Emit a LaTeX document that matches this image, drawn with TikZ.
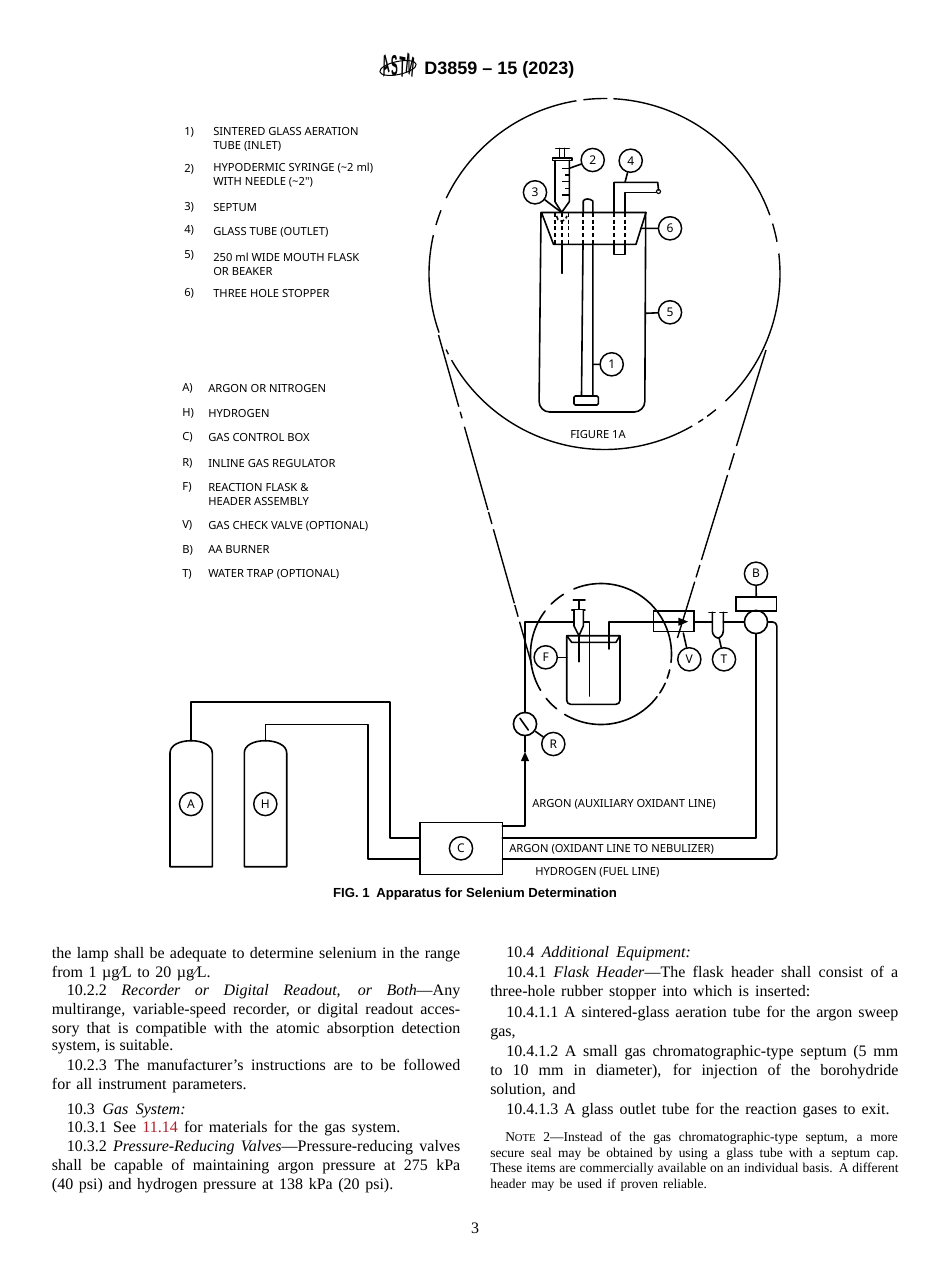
\documentclass[tikz,border=0pt]{standalone}
\usepackage{fontspec}
\setmainfont{Liberation Serif}
\newfontfamily\hel{Liberation Sans}
\newfontfamily\lab{Noto Sans}
\usetikzlibrary{arrows.meta}
\definecolor{linkred}{RGB}{175,30,40}
\newcommand{\bigarc}[2]{\draw[thinline] plot[domain=#1:#2,samples=70] ({604.5+175.5*cos(\x)},{274+175.5*sin(\x)});}
\newcommand{\smallarc}[2]{\draw[pipe] plot[domain=#1:#2,samples=50] ({601+70.5*cos(\x)},{654+70.5*sin(\x)});}
\newcommand{\bodyfont}{\fontsize{12pt}{13pt}\selectfont}
\newcommand{\notefont}{\fontsize{10.1pt}{12pt}\selectfont}
\newcommand{\full}[1]{\makebox[306.2pt][s]{#1}}
\newcommand{\ind}[1]{\makebox[295pt][s]{#1}}
\newcommand{\wide}[2]{\makebox[#1pt][s]{#2}}
\tikzset{
  pipe/.style={line width=1.2pt,line cap=round,line join=round},
  thinline/.style={line width=1.05pt,line cap=butt},
  fine/.style={line width=.85pt,line join=round},
  ball/.style={circle,draw,line width=1.1pt,fill=white,minimum size=17.4pt,inner sep=0pt,font=\lab\fontsize{9pt}{10pt}\selectfont},
  blank/.style={circle,draw,line width=1.2pt,fill=white,minimum size=17.4pt,inner sep=0pt},
  legend/.style={anchor=base west,inner sep=0pt,font=\lab\fontsize{8.38pt}{10pt}\selectfont},
  bodyline/.style={anchor=base west,inner sep=0pt,font=\bodyfont},
  noteline/.style={anchor=base west,inner sep=0pt,font=\notefont},
  tube/.style={line width=1.2pt,dash pattern=on 3pt off 2pt},
  logoletter/.style={inner sep=0pt,font=\hel\bfseries\fontsize{15pt}{15pt}\selectfont,xscale=.5,yscale=1.45},
}
\begin{document}
\begin{tikzpicture}[x=.75pt,y=-.75pt]
\useasboundingbox (0,0) rectangle (950,1272);
\fill[white] (0,0) rectangle (950,1272);

% header
\node (logoA) [logoletter,rotate=16] at (386.5,65) {A};
\node (logoS) [logoletter,rotate=5] at (394.5,66) {S};
\node (logoT) [logoletter,rotate=-4] at (402.5,67) {T};
\node (logoM) [logoletter,rotate=-16] at (410.5,65) {M};
\draw[line width=.75pt] (398,68) [rotate around={12:(398,68)}] ellipse (18.5 and 6.5);
\node (title) [anchor=base west,inner sep=0,font=\hel\bfseries\fontsize{13.5pt}{14pt}\selectfont] at (424,74) {D3859 – 15 (2023)};

% legend 1
\node (l1n) [legend] at (184,135) {1)};
\node (l1a) [legend] at (213,135) {SINTERED GLASS AERATION};
\node (l1b) [legend] at (213,149) {TUBE (INLET)};
\node (l2n) [legend] at (184,172) {2)};
\node (l2a) [legend] at (213,171) {HYPODERMIC SYRINGE (\textasciitilde2 ml)};
\node (l2b) [legend] at (213,185) {WITH NEEDLE (\textasciitilde2")};
\node (l3n) [legend] at (184,210) {3)};
\node (l3a) [legend] at (213,211) {SEPTUM};
\node (l4n) [legend] at (184,233) {4)};
\node (l4a) [legend] at (213,235) {GLASS TUBE (OUTLET)};
\node (l5n) [legend] at (184,258) {5)};
\node (l5a) [legend] at (213,261) {250 ml WIDE MOUTH FLASK};
\node (l5b) [legend] at (213,275) {OR BEAKER};
\node (l6n) [legend] at (184,296) {6)};
\node (l6a) [legend] at (213,297) {THREE HOLE STOPPER};

% legend 2
\node (laN) [legend] at (182,391) {A)};
\node (laT) [legend] at (208,392) {ARGON OR NITROGEN};
\node (lhN) [legend] at (182,416) {H)};
\node (lhT) [legend] at (208,417) {HYDROGEN};
\node (lcN) [legend] at (182,440) {C)};
\node (lcT) [legend] at (208,441) {GAS CONTROL BOX};
\node (lrN) [legend] at (182,466) {R)};
\node (lrT) [legend] at (208,467) {INLINE GAS REGULATOR};
\node (lfN) [legend] at (182,490) {F)};
\node (lfT) [legend] at (208,491) {REACTION FLASK \&};
\node (lfU) [legend] at (208,505) {HEADER ASSEMBLY};
\node (lvN) [legend] at (182,528) {V)};
\node (lvT) [legend] at (208,529) {GAS CHECK VALVE (OPTIONAL)};
\node (lbN) [legend] at (182,553) {B)};
\node (lbT) [legend] at (208,553) {AA BURNER};
\node (ltN) [legend] at (182,577) {T)};
\node (ltT) [legend] at (208,577) {WATER TRAP (OPTIONAL)};

% large circle
\bigarc{272.9}{340.4}
\bigarc{343.3}{349.4}
\bigarc{353.3}{406.4}
\bigarc{50.6}{54.2}
\bigarc{55.8}{57.7}
\bigarc{60}{150.6}
\bigarc{152.8}{154.5}
\bigarc{160.5}{192.8}
\bigarc{196.2}{201.3}
\bigarc{205.6}{260.8}
\bigarc{263.1}{270.9}

% flask detail
\draw[pipe,rounded corners=8] (541,212.5) -- (539,412) -- (644.8,412) -- (645.7,212.5);
\draw[pipe] (541.5,212.5) -- (646,212.5) -- (636,244.3) -- (553.5,244.3) -- cycle;
% syringe
\draw[pipe] (555.7,148.3) -- (569.3,148.3);
\draw[pipe] (559.3,148.3) -- (559.3,157.7) (564.3,148.3) -- (564.3,157.7);
\draw[pipe,fill=white] (552.3,157.7) rectangle (572,160.3);
\draw[pipe] (555,160.3) -- (555,201.7) -- (561.7,212.3) -- (569.3,201.7) -- (569.3,160.3);
\draw[fine] (562,168.3) -- (569.3,168.3) (565,175) -- (569.3,175) (562,181.7) -- (569.3,181.7) (565,188.3) -- (569.3,188.3) (562,195) -- (569.3,195);
\draw[tube] (555,213) -- (555,244) (568.5,213) -- (568.5,244) (561.7,213) -- (561.7,244);
\draw[pipe] (561.7,244.3) -- (561.7,273.3);
\draw[tube] (556.5,216) arc[start angle=180,end angle=0,radius=5.2];
% aeration tube
\draw[pipe] (583.2,212) -- (583.2,201) .. controls (585,198) and (590,198.5) .. (592.8,201) -- (592.8,212);
\draw[tube] (583.2,213) -- (583.2,244) (592.8,213) -- (592.8,244);
\draw[pipe] (583,244.3) -- (581.5,396) (592.8,244.3) -- (592.8,396);
\draw[pipe,rounded corners=1] (574,396) rectangle (598.3,405);
% outlet tube
\draw[pipe] (614,212) -- (614,182.3) -- (657.7,182.3) -- (658.5,190);
\draw[pipe] (624.7,212) -- (624.7,192.3) -- (656,192.3);
\draw[fine] (658.5,189.5) arc[start angle=-90,end angle=270,radius=2];
\draw[tube] (614,213) -- (614,244) (624.7,213) -- (624.7,244);
\draw[pipe] (614,244.3) -- (614,254.3) -- (624.7,254.3) -- (624.7,244.3);

% detail labels
\node (n1) [ball] at (611.7,364.3) {1};
\node (n2) [ball] at (592.7,160) {2};
\node (n3) [ball] at (535,192.3) {3};
\node (n4) [ball] at (630.7,160.7) {4};
\node (n5) [ball] at (670,312.3) {5};
\node (n6) [ball] at (670,228.3) {6};
\coordinate (c1) at (592.8,364.3);
\coordinate (c2) at (569.3,168.3);
\coordinate (c3) at (560.5,211.7);
\coordinate (c4) at (625,182.3);
\coordinate (c5) at (645.7,313.3);
\coordinate (c6) at (640.7,228.3);
\draw[pipe] (n1) -- (c1) (n2) -- (c2) (n3) -- (c3) (n4) -- (c4) (n5) -- (c5) (n6) -- (c6);
\node (fig1a) [inner sep=0,font=\lab\fontsize{8.38pt}{10pt}\selectfont] at (598,434.3) {FIGURE 1A};

% tangents
\foreach \a/\b in {335/406.7,411.7/418.3,426.7/510,512/524,529.3/603.3,605/616.7,621.7/665}
  \draw[thinline] ({438.5+.2826*(\a-335)},\a) -- ({438.5+.2826*(\b-335)},\b);
\foreach \a/\b in {350/446,453.3/470,475/560,565/577.3,581.7/638}
  \draw[thinline] ({766-.3076*(\a-350)},\a) -- ({766-.3076*(\b-350)},\b);

% small circle
\smallarc{247.4}{366.8}
\smallarc{13}{20}
\smallarc{24.5}{33.5}
\smallarc{37.3}{121}
\smallarc{129}{141}
\smallarc{149}{217.5}
\smallarc{225}{237.8}

% cylinders
\draw[pipe] (170,866.7) -- (170,753) .. controls (170,745) and (180,740.7) .. (191,740.7) .. controls (202,740.7) and (212.3,745) .. (212.3,753) -- (212.3,866.7) -- cycle;
\draw[pipe] (244.3,866.7) -- (244.3,753) .. controls (244.3,745) and (254,740.7) .. (265.3,740.7) .. controls (276,740.7) and (286.7,745) .. (286.7,753) -- (286.7,866.7) -- cycle;
\node (A) [ball] at (191,804) {A};
\node (H) [ball] at (265.3,804) {H};
\coordinate (topA) at (191,740.7);
\coordinate (topH) at (265.3,740.7);

% control box
\node (C0) [draw,line width=1.2pt,minimum width=61.7pt,minimum height=39pt,inner sep=0pt] at (461.2,848.3) {};
\node (C) [ball] at (461,848.3) {C};
\coordinate (inA) at (420,837.7);
\coordinate (inH) at (420,859);
\draw[pipe] (topA) -- (191,701.7) -- (390,701.7) -- (390,837.7) -- (inA);
\draw[pipe] (topH) -- (265.3,724.3) -- (367.7,724.3) -- (367.7,859) -- (inH);

% regulator
\node (Rv) [blank] at (525,724) {};
\node (R) [ball] at (553.3,744) {R};
\draw[pipe] (Rv) -- (R);
\coordinate (aux) at (502.3,826);
\coordinate (tip) at (525,751.7);
\draw[pipe,-{Triangle[length=7pt,width=5.8pt]}] (aux) -- (525,826) -- (tip);
\draw[pipe] (tip) -- (Rv);
\coordinate (ra) at (520,718.3);
\coordinate (rb) at (528.3,730);
\draw[pipe] (ra) -- (rb);

% small flask
\draw[pipe,rounded corners=3] (566.7,636) -- (566.7,704.3) -- (620,704.3) -- (620,636);
\draw[pipe] (566.7,635.7) -- (620,635.7) -- (616,642.3) -- (571.7,642.3) -- cycle;
\draw[pipe] (525,712.7) -- (525,621.7) -- (589.3,621.7) -- (589.3,696);
\draw[pipe] (609,649) -- (609,621.7) -- (653.3,621.7);
% small syringe
\draw[pipe] (573.3,600) -- (585,600) (579,600) -- (579,610) (571.7,610) -- (585,610);
\draw[pipe,fill=white] (574,610) -- (574,626) -- (579,635.7) -- (583.3,626) -- (583.3,610);
\draw[pipe] (579,635.7) -- (579,661.7);
\node (F) [ball] at (545.7,657.3) {F};
\coordinate (fl) at (566.7,657.3);
\draw[pipe] (F) -- (fl);

% check valve
\node (Vb) [draw,line width=1.2pt,minimum width=30.4pt,minimum height=15.5pt,inner sep=0pt] at (673.7,621.3) {};
\coordinate (va) at (653.3,621.7);
\coordinate (vb) at (688.3,621.7);
\draw[pipe,-{Triangle[length=7.5pt,width=5.8pt]}] (va) -- (vb);
\node (V) [ball] at (689.3,659.3) {V};
\coordinate (vl) at (683.3,633);
\draw[pipe] (V) -- (vl);

% trap
\node (Bc) [blank] at (756,622) {};
\draw[pipe] (712.3,612.3) -- (712.3,631) .. controls (712.3,635) and (716,638) .. (718,638) .. controls (720,638) and (723.3,635) .. (723.3,631) -- (723.3,612.3);
\draw[pipe] (709,612.5) -- (715,612.5) (720,612.5) -- (727,612.5);
\draw[pipe] (694,622) -- (712.3,622) (723.3,622) -- (Bc);
\node (T) [ball] at (724,659.3) {T};
\coordinate (tl) at (719,637.8);
\draw[pipe] (T) -- (tl);

% burner
\node (Br) [draw,line width=1.2pt,minimum width=30.5pt,minimum height=10.5pt,inner sep=0pt] at (756.3,603.7) {};
\node (B) [ball] at (756,573.7) {B};
\draw[pipe] (B) -- (Br);
\coordinate (oxi) at (502.3,837.7);
\coordinate (fuel) at (502.3,859);
\draw[pipe] (Bc) -- (756,837.7) -- (oxi);
\draw[pipe,rounded corners=3] (Bc.east) -- (776.8,622) -- (776.8,859) -- (fuel);

% line labels
\node (txa) [legend] at (532,807) {ARGON (AUXILIARY OXIDANT LINE)};
\node (txb) [legend] at (509,852) {ARGON (OXIDANT LINE TO NEBULIZER)};
\node (txc) [legend] at (535,875) {HYDROGEN (FUEL LINE)};

% caption
\node (cap) [anchor=base,inner sep=0,font=\hel\bfseries\fontsize{9.87pt}{11pt}\selectfont] at (475,897) {FIG. 1\enspace Apparatus for Selenium Determination};

% left column
\node (a1) [bodyline] at (51.7,958.3) {\full{the lamp shall be adequate to determine selenium in the range}};
\node (a2) [bodyline] at (51.7,977.7) {\wide{119}{from 1 µg⁄L to 20 µg⁄L.}};
\node (a3) [bodyline] at (66.7,995.7) {\ind{10.2.2 \textit{Recorder or Digital Readout, or Both}—Any}};
\node (a4) [bodyline] at (51.7,1014.3) {\full{multirange, variable-speed recorder, or digital readout acces-}};
\node (a5) [bodyline] at (51.7,1033.3) {\full{sory that is compatible with the atomic absorption detection}};
\node (a6) [bodyline] at (51.7,1050.7) {\wide{91}{system, is suitable.}};
\node (a7) [bodyline] at (66.7,1070) {\ind{10.2.3 The manufacturer’s instructions are to be followed}};
\node (a8) [bodyline] at (51.7,1089.3) {\wide{146}{for all instrument parameters.}};
\node (a9) [bodyline] at (66.7,1114) {\wide{89}{10.3 \textit{Gas System:}}};
\node (a10) [bodyline] at (66.7,1132.7) {\wide{250}{10.3.1 See \textcolor{linkred}{11.14} for materials for the gas system.}};
\node (a11) [bodyline] at (66.7,1151.7) {\ind{10.3.2 \textit{Pressure-Reducing Valves}—Pressure-reducing valves}};
\node (a12) [bodyline] at (51.7,1170.7) {\full{shall be capable of maintaining argon pressure at 275 kPa}};
\node (a13) [bodyline] at (51.7,1189.3) {\wide{256}{(40 psi) and hydrogen pressure at 138 kPa (20 psi).}};

% right column
\node (b1) [bodyline] at (506,957.5) {\wide{138.5}{10.4 \textit{Additional Equipment:}}};
\node (b2) [bodyline] at (506,977.7) {\makebox[294pt][s]{10.4.1 \textit{Flask Header}—The flask header shall consist of a}};
\node (b3) [bodyline] at (490,996.5) {\wide{240}{three-hole rubber stopper into which is inserted:}};
\node (b4) [bodyline] at (506,1017.3) {\makebox[294pt][s]{10.4.1.1 A sintered-glass aeration tube for the argon sweep}};
\node (b5) [bodyline] at (490,1036) {gas,};
\node (b6) [bodyline] at (506,1056) {\makebox[294pt][s]{10.4.1.2 A small gas chromatographic-type septum (5 mm}};
\node (b7) [bodyline] at (490,1075) {\makebox[306.2pt][s]{to 10 mm in diameter), for injection of the borohydride}};
\node (b8) [bodyline] at (490,1094) {\wide{64}{solution, and}};
\node (b9) [bodyline] at (506,1114) {\wide{287.5}{10.4.1.3 A glass outlet tube for the reaction gases to exit.}};
\node (n1l) [noteline] at (505,1141.7) {\makebox[294.5pt][s]{N{\fontsize{8pt}{9pt}\selectfont OTE} 2—Instead of the gas chromatographic-type septum, a more}};
\node (n2l) [noteline] at (490,1157.7) {\makebox[306.2pt][s]{secure seal may be obtained by using a glass tube with a septum cap.}};
\node (n3l) [noteline] at (490,1172.7) {\makebox[306.2pt][s]{These items are commercially available on an individual basis. A different}};
\node (n4l) [noteline] at (490,1188.3) {\wide{162.5}{header may be used if proven reliable.}};

\node (page) [anchor=base,inner sep=0,font=\bodyfont] at (475,1233.5) {3};
\end{tikzpicture}
\end{document}
